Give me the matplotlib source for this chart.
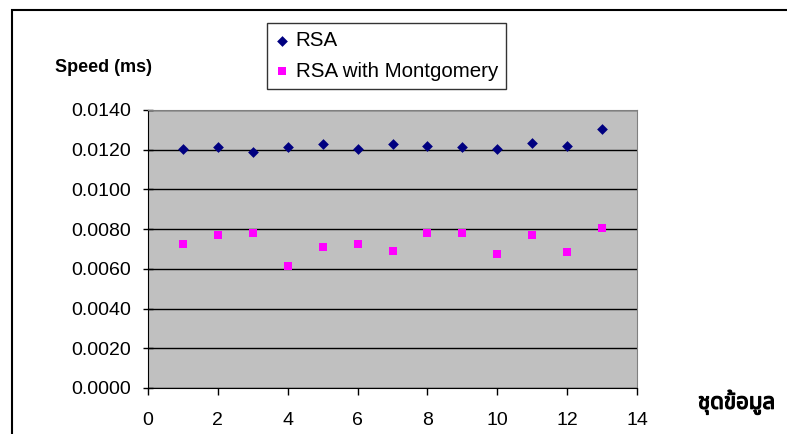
"""
RSA vs RSA with Montgomery multiplication - speed per data set.
Scatter of timing (ms) for 13 data sets, Excel-style grey plot area.
"""

import matplotlib
matplotlib.use("Agg")
import matplotlib.pyplot as plt
import matplotlib.patheffects as pe
from matplotlib.patches import Rectangle

# data sets 1..13
data_sets = [1, 2, 3, 4, 5, 6, 7, 8, 9, 10, 11, 12, 13]

rsa_ms = [0.01205, 0.01213, 0.01190, 0.01213, 0.01227, 0.01205, 0.01227,
          0.01220, 0.01213, 0.01205, 0.01233, 0.01220, 0.01305]

rsa_mont_ms = [0.00727, 0.00768, 0.00782, 0.00613, 0.00712, 0.00727, 0.00690,
               0.00782, 0.00782, 0.00677, 0.00768, 0.00683, 0.00805]

y_ticks = [0.0, 0.002, 0.004, 0.006, 0.008, 0.010, 0.012, 0.014]
x_ticks = [0, 2, 4, 6, 8, 10, 12, 14]

series_labels = ["RSA", "RSA with Montgomery"]
y_label = "Speed (ms)"
x_label = "ชุดข้อมูล"

plt.rcParams["font.family"] = ["Liberation Sans", "DejaVu Sans"]
THAI_FAMILY = ["Liberation Sans", "Noto Sans Thai", "Loma", "Garuda",
               "Tlwg Typo", "DejaVu Sans"]

W, H = 787, 434
fig = plt.figure(figsize=(W / 100, H / 100), dpi=100)
fig.patch.set_facecolor("white")

# outer chart border (runs off the right / bottom edge like the original)
fig.patches.append(Rectangle((12 / W, -0.1), 1.2, 1 - 10 / H + 0.1,
                             transform=fig.transFigure, fill=False,
                             edgecolor="black", linewidth=1.5))

ax = fig.add_axes([148 / W, 1 - 388 / H, (637 - 148) / W, (388 - 110) / H])
ax.set_facecolor("#C0C0C0")

ax.scatter(data_sets, rsa_ms, marker="D", s=30, color="#000080",
           linewidths=0, label=series_labels[0], zorder=3)
ax.scatter(data_sets, rsa_mont_ms, marker="s", s=34, color="#FF00FF",
           linewidths=0, label=series_labels[1], zorder=3)

ax.set_xlim(0, 14)
ax.set_ylim(0, 0.014)
ax.set_xticks(x_ticks)
ax.set_yticks(y_ticks)
ax.set_yticklabels([f"{v:.4f}" for v in y_ticks])
ax.tick_params(axis="y", direction="inout", length=7, width=1, labelsize=14, pad=9)
ax.tick_params(axis="x", direction="out", length=5, width=1, labelsize=14, pad=12)

ax.yaxis.grid(True, color="black", linewidth=1)
ax.set_axisbelow(True)

for side in ("top", "right"):
    ax.spines[side].set_color("#808080")
for side in ("left", "bottom"):
    ax.spines[side].set_color("black")

fig.text(55 / W, 1 - 67 / H, y_label, fontsize=13, fontweight="bold",
         ha="left", va="center")
fig.text(698 / W, 1 - 402 / H, x_label, fontsize=16, fontweight="bold",
         ha="left", va="center", family=THAI_FAMILY,
         path_effects=[pe.withStroke(linewidth=0.9, foreground="black")])

leg = ax.legend(loc="upper left", bbox_to_anchor=(267 / W, 1 - 23 / H),
                bbox_transform=fig.transFigure, frameon=True, fancybox=False,
                fontsize=14.8, handletextpad=0.3, handlelength=0.7,
                borderpad=0.4, labelspacing=0.55, borderaxespad=0)
leg.get_frame().set_edgecolor("black")
leg.get_frame().set_linewidth(1)

fig.savefig("out.png", dpi=100)
